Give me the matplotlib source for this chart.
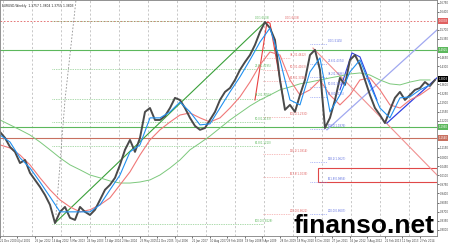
import numpy as np
import matplotlib
matplotlib.use("Agg")
import matplotlib.pyplot as plt
from matplotlib.patches import Rectangle

# weekly EURUSD closes, one value every ~2 months (sample index = x)
close = [1.177, 1.154, 1.119, 1.100, 1.057, 1.069, 1.019, 0.992, 0.965, 0.934,
         0.896, 0.826, 0.869, 0.888, 0.846, 0.838, 0.888, 0.869, 0.857, 0.877,
         0.915, 0.954, 0.973, 1.000, 1.050, 1.108, 1.146, 1.100, 1.154, 1.254,
         1.269, 1.223, 1.223, 1.238, 1.269, 1.308, 1.300, 1.269, 1.231, 1.200,
         1.185, 1.192, 1.223, 1.254, 1.300, 1.331, 1.346, 1.377, 1.416, 1.446,
         1.473, 1.512, 1.562, 1.600, 1.577, 1.531, 1.377, 1.262, 1.281, 1.254,
         1.319, 1.377, 1.473, 1.493, 1.416, 1.192, 1.231, 1.300, 1.385, 1.358,
         1.454, 1.473, 1.435, 1.377, 1.319, 1.269, 1.242, 1.211, 1.262, 1.308,
         1.331, 1.300, 1.319, 1.339, 1.346, 1.369, 1.354, 1.377]

ma_fast = [1.165, 1.138, 1.077, 1.038, 0.984, 0.927, 0.869, 0.869, 0.869, 0.869,
           0.896, 0.954, 1.011, 1.100, 1.127, 1.231, 1.231, 1.254, 1.292, 1.254,
           1.204, 1.208, 1.269, 1.331, 1.389, 1.454, 1.523, 1.577, 1.454, 1.300,
           1.281, 1.408, 1.462, 1.254, 1.319, 1.408, 1.454, 1.358, 1.269, 1.231,
           1.308, 1.312, 1.339, 1.358]
ma_mid = [1.127, 1.115, 1.088, 1.050, 1.000, 0.954, 0.915, 0.888, 0.869, 0.877,
          0.896, 0.923, 0.973, 1.023, 1.088, 1.146, 1.185, 1.215, 1.242, 1.250,
          1.231, 1.215, 1.231, 1.269, 1.312, 1.369, 1.435, 1.485, 1.473, 1.377,
          1.319, 1.339, 1.377, 1.319, 1.281, 1.319, 1.377, 1.385, 1.339, 1.281,
          1.269, 1.300, 1.319, 1.346]
ma_slow = [1.223, 1.204, 1.185, 1.165, 1.138, 1.108, 1.077, 1.050, 1.031, 1.011,
           1.000, 0.988, 0.980, 0.980, 0.984, 0.992, 1.011, 1.038, 1.069, 1.108,
           1.134, 1.161, 1.192, 1.223, 1.250, 1.277, 1.300, 1.319, 1.339, 1.350,
           1.362, 1.369, 1.377, 1.385, 1.392, 1.400, 1.404, 1.396, 1.377, 1.362,
           1.358, 1.369, 1.377, 1.377]

date_labels = ["22 Dec 2000", "4 Jul 2001", "25 Jan 2002", "14 Aug 2002", "5 Mar 2003",
               "24 Sep 2003", "13 Apr 2004", "2 Nov 2004", "23 May 2005", "12 Dec 2005",
               "3 Jul 2006", "22 Jan 2007", "10 Aug 2007", "29 Feb 2008", "19 Sep 2008",
               "9 Apr 2009", "28 Oct 2009", "18 May 2010", "6 Dec 2010", "27 Jun 2011",
               "16 Jan 2012", "3 Aug 2012", "22 Feb 2013", "11 Sep 2013", "2 Feb 2014"]

# horizontal levels with their axis boxes
hlines = [1.6038, 1.4925, 1.1960, 1.1540]
hline_colors = ["#e06060", "#5cb85c", "#5cb85c", "#c87060"]
last_price = 1.3803

# fibonacci sets
fib_names = ["0.0", "23.6", "38.2", "50.0", "61.8", "100.0", "138.2", "161.8", "200.0"]
green_fib = [1.6038, 1.4195, 1.3055, 1.2133, 1.1210, 0.8228]
red_fib = [1.4622, 1.4163, 1.3746, 1.2330, 1.0914, 1.0039, 0.8622]
red_fib_names = ["38.2", "50.0", "61.8", "100.0", "138.2", "161.8", "200.0"]
blue_fib = [1.5145, 1.4374, 1.3896, 1.3511, 1.3125, 1.1876, 1.0627, 0.9856, 0.8607]

# drawn trend lines (x in samples, y in price)
green_trend_x, green_trend_y = [11, 53], [0.826, 1.600]
gray_trend_x, gray_trend_y = [11.2, 13, 15.2], [0.857, 1.300, 1.685]
red_trend_x, red_trend_y = [62.6, 88], [1.500, 0.9995]
red_zig_x, red_zig_y = [51, 53.4, 54, 56.6], [1.300, 1.600, 1.596, 1.312]
blue_trend_x, blue_trend_y = [65.4, 88], [1.185, 1.580]
blue_trend2_x, blue_trend2_y = [77.4, 87.4], [1.211, 1.385]
blue_zig_x, blue_zig_y = [68, 70.4, 72, 75.4], [1.339, 1.481, 1.466, 1.300]
box_x, box_y = [63.6, 87.4], [0.984, 1.038]

fig = plt.figure(figsize=(4.5, 2.5), dpi=100)
ax = fig.add_axes([0.0, 0.056, 0.971, 0.944])
ax.set_xlim(0, 87.4)
ax.set_ylim(0.776, 1.685)

for k in range(16):
    ax.axvline(0.6 + 5.8 * k, color="#b0b0b0", lw=0.5, ls=(0, (3, 3)), zorder=0)

ax.axhline(1.6038, color="#e06060", lw=0.6, ls=(0, (2, 2)))
for lvl, col in zip(hlines[1:], hline_colors[1:]):
    ax.axhline(lvl, color=col, lw=0.8)

fs = 1.9
for lvl, nm in zip(green_fib, fib_names):
    ax.plot([10.4, 52.6], [lvl, lvl], color="#5cb85c", lw=0.5, ls=(0, (1, 1.5)))
    ax.text(51, lvl + 0.004, f"{nm}({lvl:.4f})", color="#5cb85c", fontsize=fs, va="bottom")
for lvl, nm in zip(red_fib, red_fib_names):
    ax.plot([52.6, 58], [lvl, lvl], color="#f08080", lw=0.5, ls=(0, (1, 1.5)))
    ax.text(58, lvl + 0.004, f"{nm}({lvl:.4f})", color="#e06060", fontsize=fs, va="bottom")
ax.text(57, 1.6038 + 0.004, "0.0(1.6038)", color="#e06060", fontsize=fs, va="bottom")
for lvl, nm in zip(blue_fib, fib_names):
    ax.plot([62, 65.4], [lvl, lvl], color="#7080f0", lw=0.5, ls=(0, (1, 1.5)))
    ax.text(65.6, lvl + 0.004, f"{nm}({lvl:.4f})", color="#6070e0", fontsize=fs, va="bottom")

ax.plot(green_trend_x, green_trend_y, color="#3aa03a", lw=0.8)
ax.plot(gray_trend_x, gray_trend_y, color="#909090", lw=0.6, ls=(0, (2, 2)))
ax.plot(red_trend_x, red_trend_y, color="#f09090", lw=0.8)
ax.plot(red_zig_x, red_zig_y, color="#e84040", lw=0.8)
ax.plot(blue_trend_x, blue_trend_y, color="#a0a8f0", lw=0.9)
ax.plot(blue_trend2_x, blue_trend2_y, color="#3040e0", lw=0.9)
ax.plot(blue_zig_x, blue_zig_y, color="#3040e0", lw=0.8)
ax.add_patch(Rectangle((box_x[0], box_y[0]), box_x[1] - box_x[0], box_y[1] - box_y[0],
                       fill=False, ec="#e04848", lw=0.8))

x_ma = np.arange(0, 88, 2)
ax.plot(x_ma, ma_slow, color="#7cc87c", lw=0.7)
ax.plot(x_ma, ma_mid, color="#f07878", lw=0.8)
ax.plot(np.arange(len(close)), close, color="#4a4a4a", lw=1.4)
ax.plot(x_ma, ma_fast, color="#2090f0", lw=0.8)

ax.set_xticks(np.arange(25) * 3.5, date_labels, fontsize=1.9, ha="left", color="#404040")
ax.yaxis.tick_right()
boxed = hlines + [last_price]
yt = [v for v in np.arange(0.800, 1.680, 0.035) if min(abs(v - b) for b in boxed) > 0.02]
ax.set_yticks(yt, [f"{v:.4f}" for v in yt], fontsize=1.9, color="#404040")
ax.tick_params(length=1.2, width=0.4, pad=0.8)
for s in ax.spines.values():
    s.set_color("#808080")
    s.set_linewidth(0.6)

for lvl, col in zip(boxed, hline_colors + ["black"]):
    ax.text(1.004, lvl, f"{lvl:.4f}", transform=ax.get_yaxis_transform(), fontsize=1.9,
            color="white", va="center", bbox=dict(fc=col, ec="none", pad=0.5))

fig.text(0.005, 0.985, "EURUSD,Weekly  1.3757 1.3804 1.3755 1.3803", fontsize=2.2,
         color="#202020", va="top")
fig.text(293 / 450, 17 / 250, "finanso.net", fontsize=19, fontweight="bold",
         family="Liberation Sans", color="black", va="baseline", zorder=10)

fig.savefig("out.png", dpi=100)
